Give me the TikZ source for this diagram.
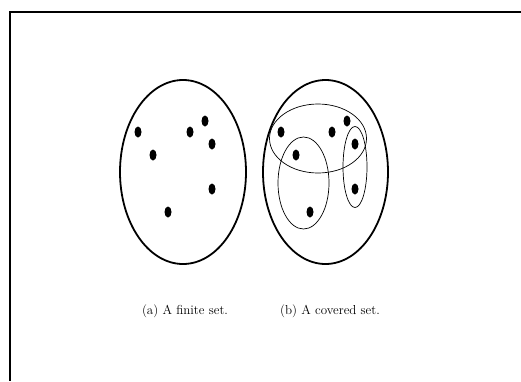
\documentclass[tikz,border=0pt]{standalone}
\usetikzlibrary{shapes}
\tikzset{
dot/.style={
	  ellipse, fill=black, inner sep=0pt,
	    minimum width=7pt, minimum height=11pt},
setline/.style={line width=1.8pt},
coverline/.style={line width=0.7pt},
caption/.style={font=\fontsize{13}{15}\selectfont, inner sep=0pt}
}

\begin{document}
\begin{tikzpicture}[x=1pt, y=-1pt]
	\useasboundingbox (0,0) rectangle (521,381);
	\draw[line width=2pt] (521,12) -- (9.5,12) -- (9.5,381);
	% (a) the finite set
	\draw[setline] (183,172) ellipse (63 and 92);
	\foreach \n/\x/\y in {1/138/132, 2/153/155, 3/190/132, 4/205/121,
		5/212/144, 6/212/189, 7/168/212}
		\node[dot] (a\n) at (\x,\y) {};
	% (b) the covered set
	\draw[setline] (325.5,172) ellipse (62.5 and 92);
	\foreach \n/\x/\y in {1/281/132, 2/296/155, 3/332/132, 4/347/121,
		5/355/144, 6/355/189, 7/310/212}
		\node[dot] (b\n) at (\x,\y) {};
	\draw[coverline] (318,138.5) ellipse (48.5 and 34.5);
	\draw[coverline] (303.5,183) ellipse (25.5 and 46);
	\draw[coverline] (355,167) ellipse (12 and 40.5);
	\node[caption] (capa) at (185,311) {(a) A finite set.};
	\node[caption] (capb) at (330,311) {(b) A covered set.};
\end{tikzpicture}
\end{document}
